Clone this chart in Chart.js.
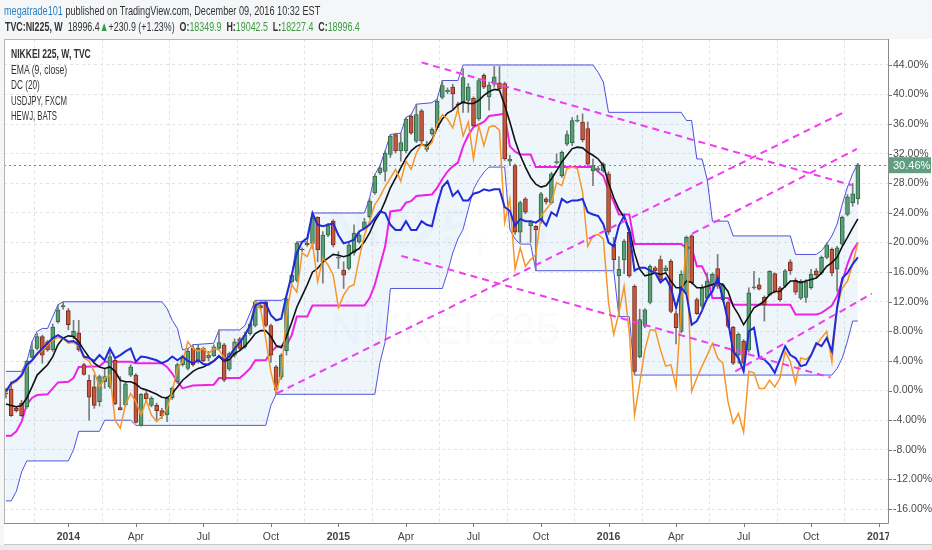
<!DOCTYPE html>
<html><head><meta charset="utf-8">
<script src="https://cdn.jsdelivr.net/npm/chart.js@4.4.1/dist/chart.umd.min.js"></script>
<style>
html,body{margin:0;padding:0;background:#f5f6f8;}
#wrap{position:relative;width:932px;height:550px;overflow:hidden;font-family:"Liberation Sans",Arial,sans-serif;}
canvas{position:absolute;left:0;top:0;}
.t{position:absolute;white-space:nowrap;transform-origin:0 0;color:#333;line-height:15px;}
.g{color:#3c9c3c;}
</style></head><body>
<div id="wrap">
<canvas id="c" width="932" height="550"></canvas>
<div class="t" id="h1" style="left:4px;top:3px;font-size:13.5px"><span style="color:#2b7fc3">megatrade101</span> published on TradingView.com, December 09, 2016 10:32 EST</div>
<div class="t" id="h2" style="left:5px;top:19px;font-size:13.5px"><b>TVC:NI225, W</b>&nbsp; 18996.4<span style="color:#2e9e44">▲</span>+230.9 (+1.23%)&nbsp; <b>O:</b><span class="g">18349.9</span>&nbsp; <b>H:</b><span class="g">19042.5</span>&nbsp; <b>L:</b><span class="g">18227.4</span>&nbsp; <b>C:</b><span class="g">18996.4</span></div>
<div class="t" id="l1" style="left:11px;top:47px;font-size:12.5px;font-weight:bold">NIKKEI 225, W, TVC</div>
<div class="t" id="l2" style="left:11px;top:63px;font-size:12.5px">EMA (9, close)</div>
<div class="t" id="l3" style="left:11px;top:78px;font-size:12.5px">DC (20)</div>
<div class="t" id="l4" style="left:11px;top:94px;font-size:12.5px">USDJPY, FXCM</div>
<div class="t" id="l5" style="left:11px;top:109px;font-size:12.5px">HEWJ, BATS</div>
</div>
<script>
// ---- data (percent change, weekly bars indexed from mid-Oct 2013) ----
const opens = [-0.3,0.2,-2.4,-1.7,-2.2,4.5,5.7,7.3,6.6,5.5,
9.3,11.3,10.8,7.3,7.8,3.5,1.4,0.5,-1.5,1.2,
0.5,4.1,-2.3,-1.9,2.1,2.1,-4.7,-0.4,-2.0,-2.0,
-2.7,-3.3,-1.0,1.2,3.5,3.0,5.7,4.0,5.7,4.4,
4.7,5.7,6.2,2.9,4.8,7.0,5.9,7.7,8.8,11.5,
12.0,8.8,3.2,1.8,5.4,14.7,14.9,19.1,19.9,19.9,
23.4,17.4,21.0,22.9,17.9,16.3,16.5,18.6,20.1,21.9,
23.5,26.7,29.4,29.6,31.9,34.6,32.4,32.4,37.1,33.7,
37.8,32.6,34.7,35.5,39.6,40.4,41.0,38.7,38.8,39.2,
39.5,36.7,42.6,39.7,41.4,41.6,41.5,31.0,30.4,21.4,
25.9,22.3,22.2,22.9,25.9,25.4,30.8,29.0,33.3,33.5,
36.4,36.3,35.4,29.7,29.8,29.7,29.3,19.8,15.5,17.7,
21.4,14.1,4.6,8.7,11.9,16.6,17.7,16.2,17.5,10.4,
8.0,13.2,20.9,12.3,11.4,12.5,14.3,16.5,12.3,11.9,
8.6,4.8,6.7,5.5,13.9,14.3,12.6,12.9,15.8,13.9,
14.1,17.4,14.9,12.5,12.6,13.9,16.2,15.9,18.0,19.1,
16.4,19.8,23.8,25.4,25.9];
const closes = [-0.4,-3.4,-2.7,-3.4,4.0,5.5,7.3,4.8,5.5,8.6,
10.9,11.5,8.9,8.0,5.5,2.2,-0.9,-2.0,1.9,1.9,
4.6,-1.8,-2.6,0.9,3.2,-4.3,-0.5,-1.1,-1.0,-2.7,
-3.4,-1.0,0.3,3.5,4.4,5.3,3.5,5.7,4.0,4.8,
5.9,6.5,1.4,5.0,6.6,5.7,7.5,9.0,12.0,11.2,
8.8,4.8,0.0,4.75,12.4,15.6,19.9,19.0,19.7,23.3,
19.0,21.0,22.3,19.7,18.0,15.6,19.7,21.3,21.0,22.8,
25.6,29.0,30.1,32.1,34.4,32.4,33.5,36.7,34.8,37.3,
33.7,33.3,35.3,39.1,41.2,40.6,40.1,38.6,42.3,41.0,
35.8,41.9,41.0,41.3,42.4,40.8,31.3,31.3,21.4,25.4,
24.1,22.7,21.7,26.6,25.5,29.3,30.9,32.2,34.6,36.5,
36.5,33.9,30.6,30.4,30.0,30.6,21.4,17.7,16.4,20.2,
15.5,2.6,9.6,10.9,16.8,16.2,15.0,16.6,10.7,8.5,
15.7,20.7,14.6,10.4,13.9,14.8,15.7,14.1,14.3,8.7,
3.7,7.6,3.7,13.2,14.0,13.7,11.6,16.1,13.4,12.3,
16.2,16.2,13.3,14.8,14.7,15.7,15.6,18.0,19.7,15.9,
19.3,23.4,26.2,26.6,30.46];
const highs = [0.3,1.2,-2.2,-1.3,4.1,6.6,7.7,7.5,6.8,9.0,
11.6,12.0,11.1,9.5,9.5,3.7,2.1,2.1,2.1,3.0,
5.4,4.4,1.9,1.2,3.5,2.3,-0.4,-0.1,-0.8,-1.7,
-2.4,-0.8,0.5,3.7,4.8,5.7,6.2,6.2,5.9,5.3,
6.2,8.2,6.4,5.2,7.0,7.2,7.9,9.2,12.2,11.9,
12.2,9.0,3.4,5.0,12.6,15.8,20.1,19.3,20.1,24.0,
23.5,21.5,22.6,23.1,18.8,17.4,20.1,22.4,21.3,23.3,
26.0,29.2,30.4,32.4,34.6,34.8,34.8,36.9,37.3,38.7,
38.0,33.7,35.5,39.4,41.9,40.9,41.4,39.0,43.5,41.5,
39.7,42.2,42.8,41.7,43.8,43.8,41.7,31.8,30.6,25.6,
26.1,22.9,22.3,26.8,26.1,29.5,32.0,32.4,35.1,36.9,
37.2,37.4,36.3,31.3,30.3,30.8,29.6,20.7,18.1,20.4,
21.6,14.3,11.0,11.1,17.0,16.8,18.2,16.9,17.7,10.7,
16.2,20.9,21.1,12.5,14.3,15.9,15.9,18.4,14.5,12.1,
8.7,7.8,6.9,13.9,16.1,15.2,12.8,16.2,15.9,14.1,
16.4,17.7,15.2,15.0,15.0,16.4,16.5,18.2,20.0,19.3,
19.5,23.6,26.5,28.0,30.7];
const lows = [-1.0,-3.5,-2.9,-3.5,-2.4,4.4,5.5,3.7,5.3,5.3,
9.1,11.0,8.2,7.0,5.3,2.1,-4.0,-2.4,-2.1,0.3,
0.3,-1.9,-2.6,-2.1,1.9,-4.4,-4.8,-1.4,-2.2,-4.0,
-3.8,-4.2,-1.2,1.0,3.3,2.8,3.3,3.7,3.9,4.0,
4.6,5.5,1.2,2.7,4.5,5.4,5.7,7.5,8.6,10.9,
8.6,3.8,-0.5,1.5,4.8,14.5,14.7,18.8,19.5,19.2,
17.4,14.5,20.8,19.4,16.5,13.8,16.3,18.3,19.9,21.7,
23.3,26.5,29.2,28.3,31.5,32.1,31.0,32.1,34.6,33.5,
33.5,32.3,34.5,35.3,39.4,40.1,38.1,37.9,37.6,37.6,
35.6,36.5,40.8,37.9,41.0,40.6,31.1,30.4,21.1,20.0,
23.9,20.0,16.2,22.6,25.2,25.2,30.6,28.8,33.1,33.1,
36.3,33.6,30.4,27.7,29.5,29.5,21.1,16.3,10.0,15.8,
15.3,2.1,4.4,8.5,11.7,16.0,14.8,16.0,10.5,6.3,
7.8,13.0,14.4,10.3,11.1,12.3,13.8,13.8,12.0,8.5,
3.5,3.7,2.6,5.2,13.7,13.6,9.4,12.8,13.2,12.1,
13.9,15.7,13.0,12.3,11.9,13.7,15.3,15.7,17.8,15.5,
13.4,19.6,23.6,24.9,25.2];
const ema9 = [-1.8,-2.0,-2.2,-2.0,-1.0,0.5,2.1,2.8,3.5,4.6,
6.2,7.1,7.4,7.3,6.6,5.5,4.5,3.7,3.2,3.0,
3.2,2.6,1.4,1.2,1.2,0.9,0.3,0.1,-0.2,-0.5,
-0.9,-1.0,-0.4,0.5,1.4,2.0,2.6,3.0,3.2,3.6,
4.0,4.6,4.0,4.2,
5.0,5.4,6.0,6.8,7.7,8.1,8.1,7.3,6.1,5.8,7.3,9.2,11.3,12.8,14.3,16.0,16.5,17.4,17.9,18.4,18.3,18.1,18.3,18.8,19.2,20.1,21.3,22.9,24.0,25.6,27.4,28.7,30.1,31.4,32.4,33.0,33.3,33.0,33.9,35.5,36.7,37.5,
37.9,38.6,39.0,38.8,38.8,39.2,39.9,40.4,40.7,40.6,38.6,36.3,33.8,31.8,30.2,28.8,27.9,27.5,27.7,28.6,29.7,30.9,31.8,32.7,32.9,32.8,32.2,31.8,31.3,30.4,28.1,26.1,24.5,23.4,21.8,18.6,16.4,15.5,15.7,15.9,15.7,15.9,
14.8,13.9,13.9,14.8,14.6,13.9,13.9,14.1,14.3,14.6,14.3,13.4,11.4,10.3,8.9,10.0,11.2,11.6,12.1,13.0,13.4,13.4,14.1,14.8,14.8,14.6,14.8,15.0,15.2,15.9,16.8,17.3,18.0,19.5,20.7,22.0,23.2];
const usdjpy = [-0.3,0.8,1.2,1.9,3.2,4.0,4.8,5.5,6.2,6.8,7.2,7.0,6.4,6.5,6.0,4.4,4.0,2.5,
0.5,1.7,2.1,-4.0,-5.1,-1.9,-0.4,-1.5,-3.3,-1.3,-3.3,-4.2,-3.5,-2.4,-0.1,3.0,3.9,6.6,5.7,5.3,5.7,5.0,5.7,5.5,4.4,4.4,
6.1,6.6,7.5,8.8,12.0,11.1,7.0,2.5,-0.2,2.3,10.2,14.3,13.3,18.6,18.1,19.9,14.7,17.9,17.0,15.6,11.2,12.9,14.0,14.3,17.9,21.0,22.9,25.1,26.2,27.6,28.7,29.9,28.3,31.0,29.9,32.1,33.3,32.8,33.5,36.0,37.3,36.7,
35.5,38.1,34.4,36.3,31.3,35.8,33.1,35.6,35.8,35.2,22.7,25.9,16.4,19.3,16.8,17.7,18.4,23.6,24.5,25.4,28.1,27.7,30.0,30.2,30.0,26.8,19.5,20.9,21.1,20.5,11.9,7.6,10.5,14.1,7.8,-3.3,1.0,5.5,8.2,8.2,5.5,3.3,
3.5,0.5,11.6,20.0,-0.1,1.7,3.3,4.8,6.4,4.4,3.7,-1.5,-4.4,-3.1,-5.6,2.6,2.4,0.3,0.3,1.4,0.5,1.7,5.3,3.9,1.0,4.4,4.2,4.8,6.2,7.1,8.0,3.9,11.2,13.9,14.8,17.1,20.0];
const hewj = [-0.1,1.0,1.4,2.1,3.5,4.1,5.0,5.7,6.4,7.1,7.5,7.1,6.6,6.7,6.2,4.6,4.4,4.0,4.8,4.1,5.7,4.4,4.8,5.3,5.7,3.9,4.6,4.5,4.3,4.1,3.7,4.0,4.6,4.1,4.6,4.0,3.7,4.1,3.6,3.5,4.0,4.7,4.1,4.6,
5.7,6.5,7.5,8.8,11.5,11.9,11.8,10.2,9.5,9.7,12.9,15.6,18.6,20.1,20.6,24.0,22.4,22.2,22.4,22.6,21.0,19.9,20.1,20.4,21.5,21.9,22.4,23.3,24.2,24.0,22.4,21.7,21.7,22.9,21.7,21.7,22.9,22.4,22.2,25.1,27.5,28.3,
26.3,27.0,25.7,25.7,26.6,26.8,27.2,27.0,27.2,27.2,24.8,24.3,22.3,23.2,22.9,22.9,22.7,23.2,22.3,24.1,23.6,25.9,25.4,25.7,25.7,25.9,24.1,23.8,23.6,22.5,20.0,19.5,22.3,23.6,21.4,16.2,16.6,16.6,16.2,15.9,14.6,15.2,
13.9,11.2,13.9,13.0,8.9,9.4,10.8,12.5,13.4,15.2,12.5,9.4,5.3,4.4,2.6,8.0,8.5,4.4,4.2,3.5,2.4,4.2,6.0,4.8,4.4,3.3,3.5,4.8,6.4,6.0,7.1,5.3,11.2,15.2,15.9,17.1,18.0];
// Donchian channel vertices [week, %]
const dcUpper = [[0,2.6],[3,2.6],[4,3.9],[5,6.6],[6,8.0],[7,8.4],[8,8.4],[9,10.0],[10,11.6],[11,12.0],[30,12.0],[31,11.1],[32,9.5],[33,8.4],[34,5.5],[35,5.7],[36,6.2],[40,6.4],[41,8.2],[45,8.2],[46,8.8],[47,10.5],[48,12.2],[53,12.2],[54,12.6],[55,15.6],[56,20.1],[58,20.1],[59,24.0],[69,24.0],[70,26.0],[71,29.2],[72,30.4],[73,32.4],[74,34.6],[76,34.8],[77,36.9],[78,37.3],[79,38.7],[82,38.9],[83,39.4],[84,41.9],[87,41.9],[88,44.0],[113,44.0],[114,43.0],[115,41.7],[116,37.6],[130,37.6],[131,36.5],[132,36.5],[133,31.3],[134,31.3],[135,28.5],[136,22.9],[139,22.9],[140,20.9],[151,20.9],[152,18.4],[156,18.4],[157,18.9],[158,19.8],[159,20.9],[160,22.5],[161,25.2],[162,27.5],[163,29.3],[164,30.7]];
const dcLower = [[0,-14.9],[1,-14.9],[2,-13.6],[3,-11.0],[4,-9.5],[12,-9.5],[13,-8.0],[14,-5.5],[18,-5.5],[19,-4.0],[24,-4.0],[25,-4.7],[50,-4.7],[51,-2.0],[52,-0.5],[71,-0.5],[72,3.8],[73,6.6],[74,13.8],[84,13.8],[85,16.0],[86,18.6],[87,20.5],[88,21.8],[89,24.5],[90,27.2],[91,28.5],[92,29.5],[93,30.2],[96,30.2],[97,21.8],[98,20.5],[99,19.8],[101,19.8],[102,16.2],[117,16.2],[118,10.0],[120,10.0],[121,2.1],[159,2.1],[160,3.0],[161,4.4],[162,6.7],[163,9.4],[164,9.4]];
const dcMid = [[0,-6.1],[1,-6.1],[2,-5.5],[3,-4.2],[4,-1.9],[5,-1.0],[6,-0.6],[8,-0.5],[9,0.3],[10,1.1],[12,1.2],[13,1.7],[14,3.2],[18,3.3],[19,3.9],[24,3.9],[25,3.7],[30,3.7],[31,3.2],[32,2.3],[33,1.2],[34,0.3],[35,0.5],[36,0.7],[40,0.8],[41,1.7],[45,1.7],[46,2.3],[47,3.0],[48,4.1],[50,4.1],[51,5.2],[52,5.9],[54,6.1],[55,7.5],[56,10.0],[58,10.0],[59,11.5],[69,11.5],[70,12.5],[71,14.3],[72,16.9],[73,19.5],[74,24.2],[76,24.4],[77,25.4],[78,25.6],[79,26.3],[82,26.5],[83,27.4],[84,28.6],[85,29.6],[86,30.3],[87,30.8],[88,33.0],[89,34.5],[90,35.6],[92,36.3],[93,37.1],[96,37.4],[97,33.0],[98,32.3],[99,31.9],[101,31.9],[102,30.2],[113,30.2],[114,29.6],[115,29.0],[116,27.0],[117,25.5],[118,23.8],[120,23.8],[121,19.8],[130,19.8],[131,19.3],[132,19.3],[133,16.8],[134,16.8],[135,15.3],[136,12.5],[139,12.5],[140,11.6],[151,11.6],[152,10.3],[156,10.3],[157,10.5],[158,11.0],[159,11.5],[160,12.8],[161,14.8],[162,17.1],[163,18.9],[164,20.0]];
// hand-drawn trend lines [[week,%],[week,%]]
const trendLines = [[[80.0,44.35],[162.8,27.75]],[[52.15,-0.37],[161.55,37.7]],[[132.1,21.2],[163.8,32.65]],[[76.1,18.2],[158.7,1.77]],[[140.4,2.6],[166.7,13.1]]];
const tickWeeks = [12,25,38,51,64,77,90,103,116,129,142,155,168];
const tickLabels = ['2014','Apr','Jul','Oct','2015','Apr','Jul','Oct','2016','Apr','Jul','Oct','2017'];
const yTicks = [-16,-12,-8,-4,0,4,8,12,16,20,24,28,32,36,40,44];
const lastPct = closes[closes.length-1];

const xy = a => a.map(p => ({x:p[0], y:p[1]}));
const series = a => a.map((v,i) => ({x:i, y:v}));
const up = i => closes[i] >= opens[i];

const decor = {
  id:'decor',
  beforeDraw(ch){
    const c=ch.ctx, a=ch.chartArea;
    c.save();
    c.fillStyle='#f5f6f8'; c.fillRect(0,0,932,550);
    c.fillStyle='#ffffff'; c.fillRect(a.left, a.top, 932-a.left, 545-a.top);
    c.fillStyle='#e9ebee'; c.fillRect(0,545,932,5);
    c.restore();
  },
  beforeDatasetsDraw(ch){
    const c=ch.ctx, a=ch.chartArea, y=ch.scales.y;
    c.save();
    c.beginPath(); c.rect(a.left,a.top,a.right-a.left,a.bottom-a.top); c.clip();
    c.fillStyle='rgba(110,130,150,0.035)'; c.textAlign='center'; c.textBaseline='middle';
    c.font='bold 54px "Liberation Sans"'; c.fillText('NI225, W', 440, 232);
    c.font='44px "Liberation Sans"'; c.fillText('NIKKEI 225', 445, 332);
    const py = Math.round(y.getPixelForValue(lastPct))+0.5;
    c.strokeStyle='#4f9a70'; c.lineWidth=1; c.setLineDash([2,3]);
    c.beginPath(); c.moveTo(a.left,py); c.lineTo(a.right,py); c.stroke();
    c.restore();
  },
  afterDraw(ch){
    const c=ch.ctx, a=ch.chartArea, x=ch.scales.x, y=ch.scales.y;
    c.save();
    c.fillStyle='#ffffff'; c.fillRect(a.right+1, a.bottom+1, 932-a.right, 545-a.bottom-1);
    c.strokeStyle='#b5b5b5'; c.lineWidth=1;
    c.beginPath(); c.moveTo(a.left+0.5,a.bottom); c.lineTo(a.left+0.5,a.top+0.5); c.lineTo(a.right,a.top+0.5); c.stroke();
    c.strokeStyle='#8a8a8a';
    c.beginPath(); c.moveTo(a.right+0.5,a.top); c.lineTo(a.right+0.5,a.bottom+0.5); c.lineTo(a.left,a.bottom+0.5); c.stroke();
    c.beginPath(); c.moveTo(a.left,544.5); c.lineTo(932,544.5); c.strokeStyle='#c9c9c9'; c.stroke();
    c.strokeStyle='#777';
    yTicks.forEach(v=>{const p=Math.round(y.getPixelForValue(v))+0.5; c.beginPath(); c.moveTo(a.right+1,p); c.lineTo(a.right+4,p); c.stroke();});
    tickWeeks.forEach(v=>{const p=Math.round(x.getPixelForValue(v))+0.5; if(p<a.right){c.beginPath(); c.moveTo(p,a.bottom+1); c.lineTo(p,a.bottom+4); c.stroke();}});
    const py = y.getPixelForValue(lastPct);
    c.fillStyle='#5f9f7f'; c.fillRect(a.right+1, py-8, 42, 16);
    c.fillStyle='#ffffff'; c.font='11px "Liberation Sans"'; c.textBaseline='middle'; c.textAlign='left';
    c.fillText(lastPct.toFixed(2)+'%', a.right+5, py+0.5);
    c.restore();
  }
};

const lineDs = (label, data, color, width, order, extra) => Object.assign({type:'line', label, data, borderColor:color, borderWidth:width, pointRadius:0, tension:0, fill:false, order}, extra||{});

const datasets = [
  lineDs('DC upper', xy(dcUpper), '#4f4fe0', 1, 30, {fill:'+1', backgroundColor:'rgba(120,185,230,0.13)'}),
  lineDs('DC lower', xy(dcLower), '#4f4fe0', 1, 30),
  lineDs('DC basis', xy(dcMid), '#ee22e6', 2, 20),
  {type:'bar', label:'wick', data: highs.map((h,i)=>({x:i, y:[lows[i],h]})), backgroundColor:'#7a7a7a', barThickness:1, grouped:false, order:12},
  {type:'bar', label:'body', data: opens.map((o,i)=>({x:i, y:[o,closes[i]]})),
    backgroundColor: c => up(c.dataIndex) ? '#5d9c76' : '#c5573f',
    borderColor: c => up(c.dataIndex) ? '#2f6b49' : '#7d2c1c',
    borderWidth:1, borderSkipped:false, barThickness:4, minBarLength:1, grouped:false, order:11},
  lineDs('EMA (9, close)', series(ema9), '#111111', 1.6, 6),
  lineDs('USDJPY', series(usdjpy), '#f5962a', 1.5, 5),
  lineDs('HEWJ', series(hewj), '#1f2ad8', 2, 4),
];
trendLines.forEach((t,k)=>datasets.push(lineDs('trend'+k, xy(t), '#f03cf0', 2, 1, {borderDash:[7,5]})));

const gridDash = {display:false, dash:[3,3]};
new Chart(document.getElementById('c'), {
  data:{datasets},
  plugins:[decor],
  options:{
    responsive:false, animation:false, devicePixelRatio:1,
    layout:{padding:{left:4, top:39, right:0, bottom:0}},
    plugins:{legend:{display:false}, tooltip:{enabled:false}},
    scales:{
      x:{type:'linear', min:-0.385, max:169.8, offset:false,
        afterBuildTicks:s=>{s.ticks = tickWeeks.map(v=>({value:v}));},
        afterFit:s=>{s.height = 27;},
        ticks:{autoSkip:false, maxRotation:0, padding:8, color:'#444',
          callback:v=>tickLabels[tickWeeks.indexOf(v)],
          font:c=>({family:'Liberation Sans', size:10.5, weight:(c.tick && /^\d{4}$/.test(tickLabels[tickWeeks.indexOf(c.tick.value)]||'')) ? 'bold':'normal'})},
        grid:{color:'#e3e3e3', drawTicks:false},
        border:gridDash},
      y:{type:'linear', position:'right', min:-17.89, max:47.51,
        afterBuildTicks:s=>{s.ticks = yTicks.map(v=>({value:v}));},
        afterFit:s=>{s.width = 44;},
        ticks:{padding:5, color:'#4a4a4a', font:{family:'Liberation Sans', size:10.5}, callback:v=>v.toFixed(2)+'%'},
        grid:{color:'#e3e3e3', drawTicks:false},
        border:gridDash}
    }
  }
});

function fit(id, w){ const el=document.getElementById(id); el.style.transform=''; const r=el.scrollWidth; if(r>0) el.style.transform='scaleX('+(w/r)+')'; }
function fitAll(){ fit('h1',316); fit('h2',355); fit('l1',80); fit('l2',56); fit('l3',29); fit('l4',56); fit('l5',46); }
fitAll();
if(document.fonts && document.fonts.ready) document.fonts.ready.then(fitAll);
</script>
</body></html>
